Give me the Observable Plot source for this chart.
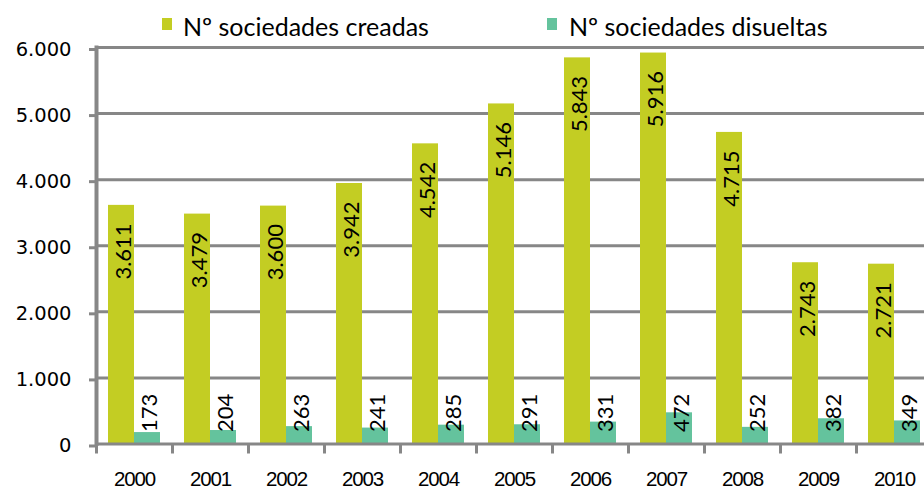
<!DOCTYPE html>
<html>
<head>
<meta charset="utf-8">
<script src="https://cdn.jsdelivr.net/npm/d3@7"></script>
<script src="https://cdn.jsdelivr.net/npm/@observablehq/plot@0.6"></script>
<style>
  html, body { margin: 0; padding: 0; background: #fff; overflow: hidden; }
  #wrap { position: relative; width: 924px; height: 491px; }
  #legend { position: absolute; left: 0; top: 0; width: 924px; height: 40px; pointer-events: none; }
  .leg { position: absolute; font-family: Lato, sans-serif; font-size: 25px; line-height: 30px; color: #000; white-space: nowrap; }
  .sw { position: absolute; width: 10px; height: 12px; }
  g[aria-label="fx-axis tick label"] text { letter-spacing: -1.2px; }
</style>
</head>
<body>
<div id="wrap"></div>
<script>
// ---- data ----
const years = ["2000", "2001", "2002", "2003", "2004", "2005", "2006", "2007", "2008", "2009", "2010"];
const creadas = [3611, 3479, 3600, 3942, 4542, 5146, 5843, 5916, 4715, 2743, 2721];
const disueltas = [173, 204, 263, 241, 285, 291, 331, 472, 252, 382, 349];
const seriesNames = ["Nº sociedades creadas", "Nº sociedades disueltas"];
const seriesColors = ["#C3CD23", "#64C39D"];
const yTicks = [0, 1000, 2000, 3000, 4000, 5000, 6000];

const locale = d3.formatLocale({decimal: ",", thousands: ".", grouping: [3], currency: ["", "€"]});
const fmt = locale.format(",d");

const rows = years.flatMap((year, i) => [
  {year, serie: seriesNames[0], value: creadas[i]},
  {year, serie: seriesNames[1], value: disueltas[i]}
]);
const rowsC = rows.filter(d => d.serie === seriesNames[0]);
const rowsD = rows.filter(d => d.serie === seriesNames[1]);

const gray = "#878787";

const chart = Plot.plot({
  width: 924,
  height: 491,
  marginTop: 47,
  marginBottom: 47.5,
  marginLeft: 93,
  marginRight: 0,
  style: {background: "white", overflow: "hidden"},
  fx: {domain: years, range: [93, 934.5], padding: 0, axis: null, label: null},
  x: {domain: seriesNames, paddingInner: 0, paddingOuter: 0.46, axis: null},
  y: {domain: [0, 6000], axis: null},
  color: {domain: seriesNames, range: seriesColors},
  marks: [
    Plot.ruleY(yTicks.slice(1), {stroke: gray, strokeWidth: 3}),
    Plot.barY(rows, {fx: "year", x: "serie", y: "value", fill: "serie"}),
    Plot.ruleY([0], {stroke: gray, strokeWidth: 3}),
    Plot.frame({anchor: "left", facetAnchor: "left", stroke: gray, strokeWidth: 4}),
    Plot.axisY({ticks: yTicks, tickFormat: fmt, tickSize: 7, tickPadding: 18, stroke: gray, strokeWidth: 3,
      fill: "#000", fontSize: 19.5, fontFamily: "DejaVu Sans", label: null, dy: 2}),
    Plot.axisFx({anchor: "bottom", tickSize: 10, frameAnchor: "bottom-left", fill: "none", stroke: gray, strokeWidth: 3, label: null}),
    Plot.axisFx({anchor: "bottom", tickSize: 0, tickPadding: 27, fill: "#000", fontSize: 20.5,
      fontFamily: "'Liberation Sans', Arial, sans-serif", label: null}),
    Plot.text(rowsC, {fx: "year", x: "serie", y: "value", text: d => fmt(d.value), rotate: -90, textAnchor: "end",
      lineAnchor: "middle", dx: 2, dy: 18, fontSize: 22, fontFamily: "Lato, sans-serif", fill: "#000"}),
    Plot.text(rowsD, {fx: "year", x: "serie", frameAnchor: "bottom", text: d => fmt(d.value), rotate: -90, textAnchor: "start",
      lineAnchor: "middle", dx: 2, dy: -12, fontSize: 22, fontFamily: "Lato, sans-serif", fill: "#000"})
  ]
});

const wrap = document.getElementById("wrap");
wrap.appendChild(chart);

// legend
const legend = document.createElement("div");
legend.id = "legend";
const legendPos = [{sw: 162, tx: 183}, {sw: 547, tx: 569}];
seriesNames.forEach((name, i) => {
  const sw = document.createElement("div");
  sw.className = "sw";
  sw.style.left = legendPos[i].sw + "px";
  sw.style.top = "18px";
  sw.style.background = seriesColors[i];
  const tx = document.createElement("div");
  tx.className = "leg";
  tx.style.left = legendPos[i].tx + "px";
  tx.style.top = "11px";
  tx.textContent = name;
  legend.appendChild(sw);
  legend.appendChild(tx);
});
wrap.appendChild(legend);
</script>
</body>
</html>
